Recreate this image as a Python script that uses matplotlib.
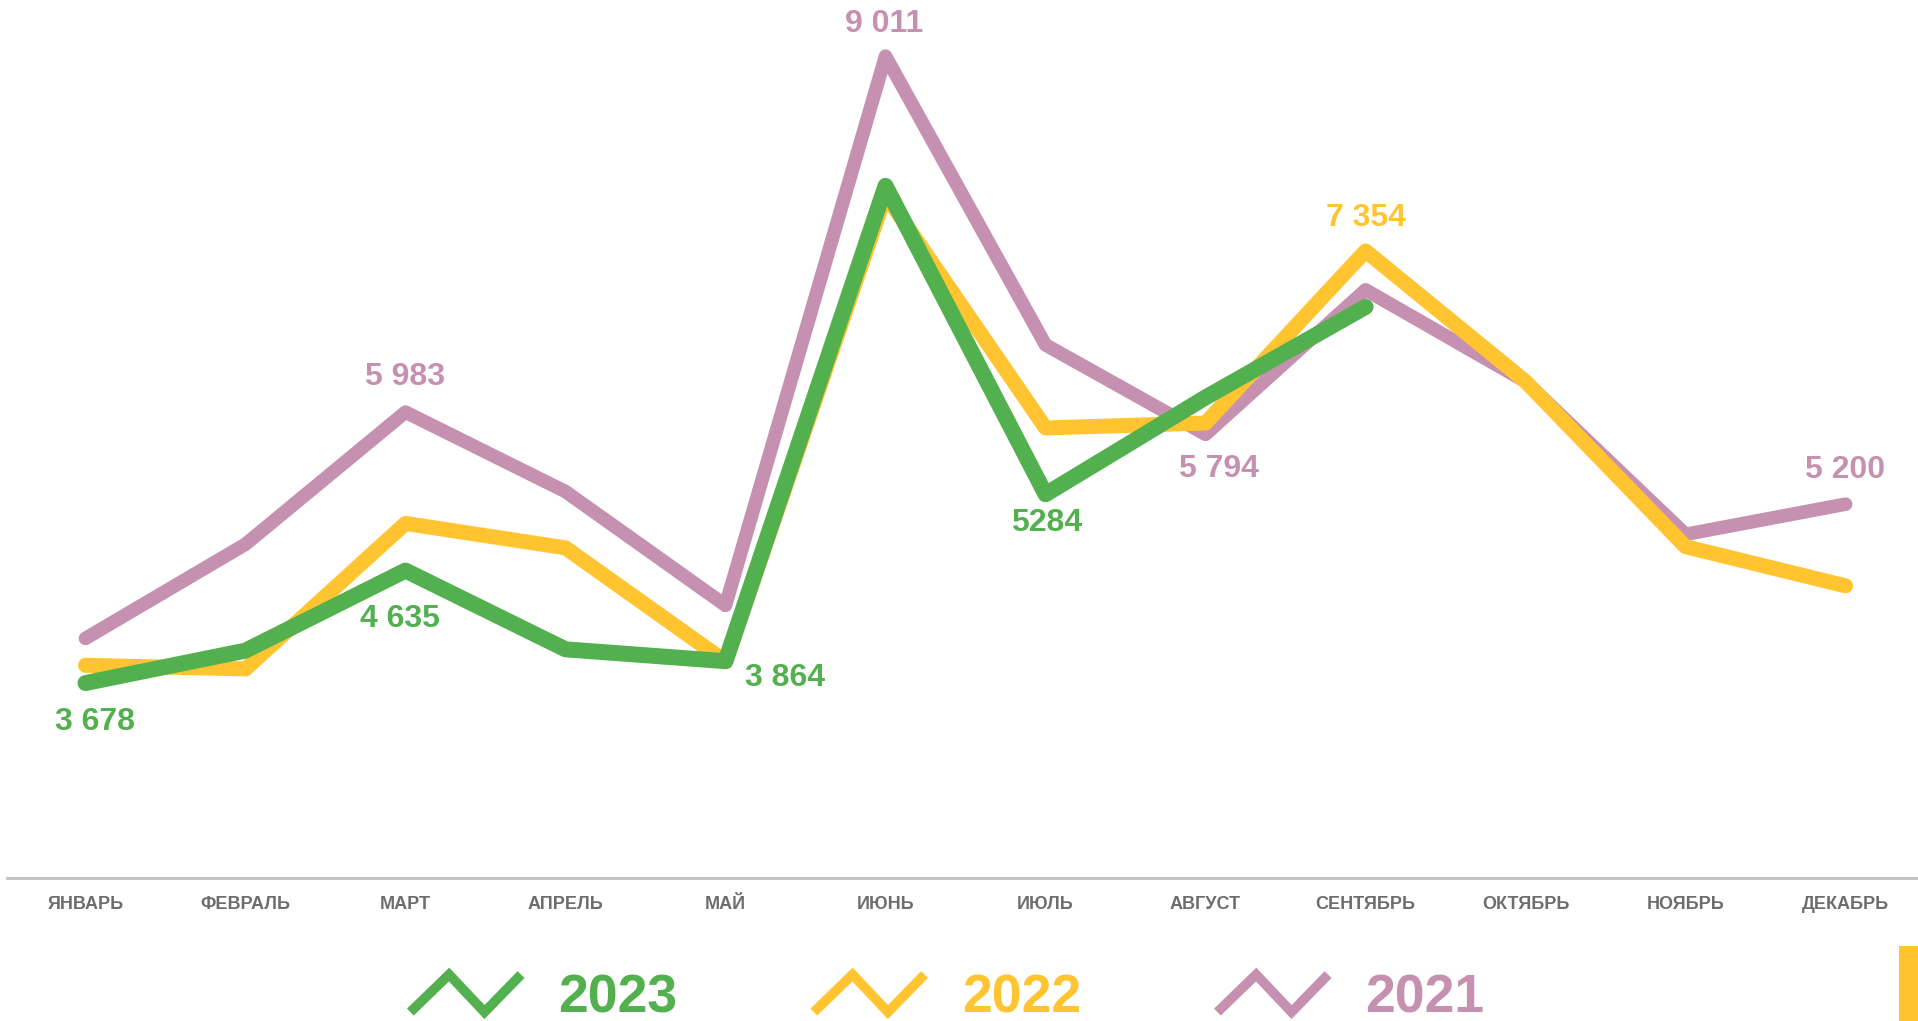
import matplotlib.pyplot as plt
from matplotlib.lines import Line2D
from matplotlib.legend_handler import HandlerBase
from matplotlib.patches import Rectangle

plt.rcParams['font.family'] = ['Liberation Sans', 'DejaVu Sans']
plt.rcParams['font.weight'] = 'bold'

months = ["ЯНВАРЬ", "ФЕВРАЛЬ", "МАРТ", "АПРЕЛЬ", "МАЙ", "ИЮНЬ",
          "ИЮЛЬ", "АВГУСТ", "СЕНТЯБРЬ", "ОКТЯБРЬ", "НОЯБРЬ", "ДЕКАБРЬ"]

y2021 = [4058, 4859, 5983, 5307, 4339, 9011, 6555, 5794, 7023, 6243, 4943, 5200]
y2022 = [3829, 3798, 5036, 4828, 3860, 7830, 5848, 5890, 7354, 6243, 4838, 4505]
y2023 = [3678, 3954, 4635, 3965, 3864, 7908, 5284, 6108, 6878]

years = ["2023", "2022", "2021"]
colors = {"2023": "#52B04F", "2022": "#FFC430", "2021": "#C690B1"}
widths = {"2023": 11.5, "2022": 10.8, "2021": 9.8}

# подписи: (ряд, индекс месяца, текст, смещение в пикселях)
labels = [
    ("2021", 2, "5 983", (0, 35)),
    ("2021", 5, "9 011", (-1, 32)),
    ("2022", 8, "7 354", (0, 33)),
    ("2021", 7, "5 794", (13, -35)),
    ("2021", 11, "5 200", (-1, 34)),
    ("2023", 0, "3 678", (10, -39)),
    ("2023", 2, "4 635", (-6, -48)),
    ("2023", 4, "3 864", (59, -17)),
    ("2023", 6, "5284", (1, -29)),
]

series = {"2021": y2021, "2022": y2022, "2023": y2023}


class ZigZag(HandlerBase):
    def create_artists(self, legend, orig_handle, xdescent, ydescent,
                       width, height, fontsize, trans):
        h = 27
        yc = height / 2 - ydescent
        xs = [0, width * 0.35, width * 0.67, width]
        ys = [yc - h / 2, yc + h / 2, yc - h / 2, yc + h / 2]
        ln = Line2D(xs, ys, color=orig_handle.get_color(), lw=7,
                    solid_joinstyle='miter', solid_capstyle='butt',
                    transform=trans)
        return [ln]


fig = plt.figure(figsize=(19.18, 10.21), dpi=100)
ax = fig.add_axes([0.0036, 0.140, 0.9964, 0.860])

for yr in ["2021", "2022", "2023"]:
    vals = series[yr]
    ax.plot(range(len(vals)), vals, color=colors[yr], lw=widths[yr],
            solid_capstyle='round', solid_joinstyle='round')

for yr, i, txt, off in labels:
    ax.annotate(txt, (i, series[yr][i]), xytext=off, textcoords='offset pixels',
                ha='center', va='center', fontsize=23, fontweight='bold',
                color=colors[yr])

ax.set_xlim(-0.491, 11.4525)
ax.set_ylim(2019, 9489)
ax.set_xticks(range(12))
ax.set_xticklabels(months, fontsize=13, fontweight='bold', color='#6D6D6D')
ax.tick_params(axis='x', length=0, pad=13)
ax.set_yticks([])
for s in ['top', 'left', 'right']:
    ax.spines[s].set_visible(False)
ax.spines['bottom'].set_color('#BFBFBF')
ax.spines['bottom'].set_linewidth(2)

handles = [Line2D([], [], color=colors[y]) for y in years]
leg = fig.legend(handles, years, loc='center', bbox_to_anchor=(0.4940, 0.0225),
                 ncol=3, frameon=False, fontsize=38.5, handlelength=2.07,
                 handletextpad=0.7, columnspacing=2.55, borderpad=0,
                 handler_map={Line2D: ZigZag()})
for t, y in zip(leg.get_texts(), years):
    t.set_color(colors[y])
    t.set_fontweight('bold')

fig.add_artist(Rectangle((1899 / 1918, 0), 19 / 1918, 75 / 1021,
                         transform=fig.transFigure, color='#FFC430', lw=0))

fig.savefig('out.png', dpi=100)
